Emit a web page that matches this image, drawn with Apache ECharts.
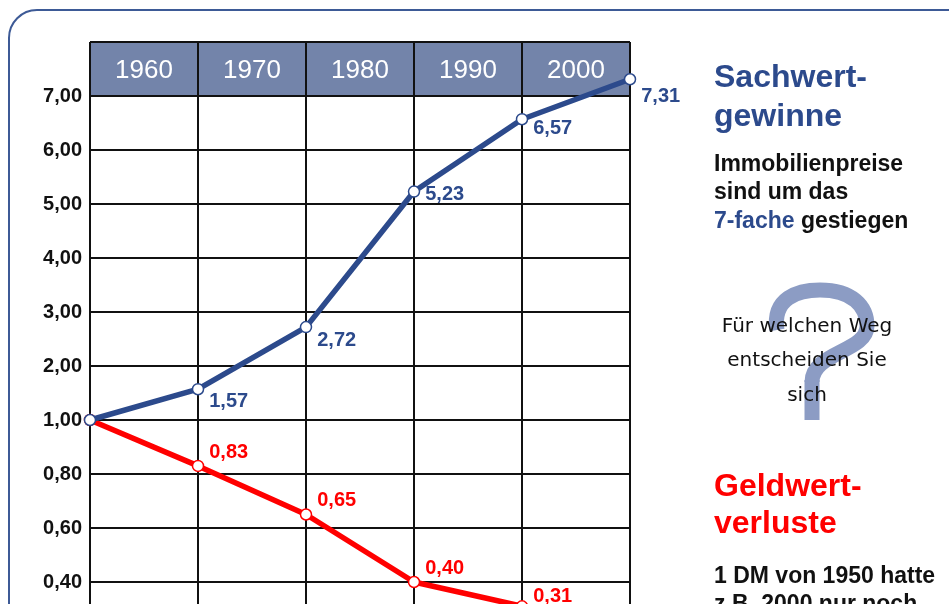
<!DOCTYPE html>
<html><head><meta charset="utf-8">
<script src="https://cdn.jsdelivr.net/npm/echarts@6/dist/echarts.min.js"></script>
<style>html,body{margin:0;padding:0;background:#fff;}#c{width:949px;height:604px;}</style>
</head><body><div id="c"></div>
<script>
// ---- data ----
const years = [1950, 1960, 1970, 1980, 1990, 2000];
const headerLabels = ['1960', '1970', '1980', '1990', '2000'];
const sachwert = [1.00, 1.57, 2.72, 5.23, 6.57, 7.31];
const geldwert = [1.00, 0.83, 0.65, 0.40, 0.31];
// y tick labels, one per grid step (lower part 0.20 steps, upper part 1.00 steps)
const yTickLabels = ['0,00','0,20','0,40','0,60','0,80','1,00','2,00','3,00','4,00','5,00','6,00','7,00',''];

// ---- styles (not data) ----
const BLUE = '#2c4a8c', RED = '#ff0000', HEADER = '#7384aa';
const FONT = '"Liberation Sans", Arial, Helvetica, sans-serif';
const blueLabelOffsets = [[0,0],[0,12],[0,13],[0,3],[0,9],[0,17]];
const redLabelOffsets = [[0,0],[0,-13],[0,-14],[0,-14],[0,-10]];

// piecewise axis: 0..1 in steps of 0.2 -> 0..5, 1..7 in steps of 1 -> 5..11
function toPos(v){ return v >= 1 ? v + 4 : v / 0.2; }
function fmt(v){ return v.toFixed(2).replace('.', ','); }

function buildSeries(vals, offsets){
  return vals.map((v, i) => ({
    value: [years[i], toPos(v)],
    label: { show: i > 0, offset: offsets[i] }
  }));
}

const splitColors = [];
for (let i = 0; i < 11; i++) splitColors.push('#ffffff');
splitColors.push(HEADER);

const QM = { fill: 'none', stroke: '#8c9cc4', lineWidth: 15 };
const GRIDLINE = { color: '#111', width: 2 };

const chart = echarts.init(document.getElementById('c'), null, {renderer: 'canvas'});
chart.setOption({
  animation: false,
  backgroundColor: '#fff',
  grid: { left: 90, top: 42, width: 540, height: 648, containLabel: false, outerBoundsMode: 'none' },
  xAxis: [{
    type: 'value', min: 1950, max: 2000, interval: 10,
    axisLine: { show: false }, axisTick: { show: false }, axisLabel: { show: false },
    splitLine: { show: true, lineStyle: GRIDLINE }
  }, {
    type: 'category', position: 'top', data: headerLabels, boundaryGap: true,
    axisLine: { show: false }, axisTick: { show: false }, splitLine: { show: false },
    axisLabel: { inside: true, margin: 16, color: '#ffffff', fontSize: 26, fontFamily: FONT }
  }],
  yAxis: {
    type: 'value', min: 0, max: 12, interval: 1,
    axisLine: { show: false }, axisTick: { show: false },
    splitLine: { show: true, lineStyle: GRIDLINE },
    splitArea: { show: true, areaStyle: { color: splitColors } },
    axisLabel: {
      margin: 8, color: '#111', fontSize: 20, fontWeight: 'bold', fontFamily: FONT,
      formatter: v => yTickLabels[v] || ''
    }
  },
  series: [{
    type: 'line', name: 'Sachwert', z: 3,
    data: buildSeries(sachwert, blueLabelOffsets),
    lineStyle: { color: BLUE, width: 5.5 },
    symbol: 'circle', symbolSize: 11,
    itemStyle: { color: '#fff', borderColor: BLUE, borderWidth: 1.5 },
    label: {
      position: 'right', distance: 5, color: BLUE, fontSize: 20, fontWeight: 'bold', fontFamily: FONT,
      formatter: p => fmt(sachwert[p.dataIndex])
    }
  }, {
    type: 'line', name: 'Geldwert', z: 2,
    data: buildSeries(geldwert, redLabelOffsets),
    lineStyle: { color: RED, width: 5.5 },
    symbol: 'circle', symbolSize: 11,
    itemStyle: { color: '#fff', borderColor: RED, borderWidth: 1.5 },
    label: {
      position: 'right', distance: 5, color: RED, fontSize: 20, fontWeight: 'bold', fontFamily: FONT,
      formatter: p => fmt(geldwert[p.dataIndex])
    }
  }],
  graphic: [
    { type: 'rect', z: 100, shape: { x: 9, y: 10, width: 1000, height: 700, r: 28 },
      style: { fill: 'none', stroke: '#3d5a96', lineWidth: 2 } },
    { type: 'text', z: 100, x: 714, y: 78, style: { text: 'Sachwert-', fill: BLUE, font: 'bold 32px ' + FONT, verticalAlign: 'middle' } },
    { type: 'text', z: 100, x: 714, y: 117, style: { text: 'gewinne', fill: BLUE, font: 'bold 32px ' + FONT, verticalAlign: 'middle' } },
    { type: 'text', z: 100, x: 714, y: 165, style: { text: 'Immobilienpreise', fill: '#111', font: 'bold 23px ' + FONT, verticalAlign: 'middle' } },
    { type: 'text', z: 100, x: 714, y: 193, style: { text: 'sind um das', fill: '#111', font: 'bold 23px ' + FONT, verticalAlign: 'middle' } },
    { type: 'text', z: 100, x: 714, y: 222, style: {
        text: '{b|7-fache} {n|gestiegen}', verticalAlign: 'middle', font: 'bold 23px ' + FONT, fill: '#111',
        rich: { b: { fill: BLUE, fontSize: 23, fontWeight: 'bold', fontFamily: FONT },
                n: { fill: '#111', fontSize: 23, fontWeight: 'bold', fontFamily: FONT } } } },
    { type: 'bezierCurve', z: 99, shape: { x1: 777, y1: 330, cpx1: 772, cpy1: 298, cpx2: 798, cpy2: 290, x2: 820, y2: 290 }, style: QM },
    { type: 'bezierCurve', z: 99, shape: { x1: 820, y1: 290, cpx1: 852, cpy1: 290, cpx2: 867, cpy2: 306, x2: 867, y2: 326 }, style: QM },
    { type: 'bezierCurve', z: 99, shape: { x1: 867, y1: 326, cpx1: 867, cpy1: 352, cpx2: 812, cpy2: 352, x2: 812, y2: 382 }, style: QM },
    { type: 'line', z: 99, shape: { x1: 812, y1: 380, x2: 812, y2: 420 }, style: QM },
    { type: 'text', z: 100, x: 807, y: 327, style: { text: 'Für welchen Weg', fill: '#111', font: '20px "DejaVu Sans", sans-serif', align: 'center', verticalAlign: 'middle' } },
    { type: 'text', z: 100, x: 807, y: 361, style: { text: 'entscheiden Sie', fill: '#111', font: '20px "DejaVu Sans", sans-serif', align: 'center', verticalAlign: 'middle' } },
    { type: 'text', z: 100, x: 807, y: 396, style: { text: 'sich', fill: '#111', font: '20px "DejaVu Sans", sans-serif', align: 'center', verticalAlign: 'middle' } },
    { type: 'text', z: 100, x: 714, y: 487, style: { text: 'Geldwert-', fill: RED, font: 'bold 32px ' + FONT, verticalAlign: 'middle' } },
    { type: 'text', z: 100, x: 714, y: 524, style: { text: 'verluste', fill: RED, font: 'bold 32px ' + FONT, verticalAlign: 'middle' } },
    { type: 'text', z: 100, x: 714, y: 577, style: { text: '1 DM von 1950 hatte', fill: '#111', font: 'bold 23px ' + FONT, verticalAlign: 'middle' } },
    { type: 'text', z: 100, x: 714, y: 605, style: { text: 'z.B. 2000 nur noch', fill: '#111', font: 'bold 23px ' + FONT, verticalAlign: 'middle' } }
  ]
});
</script>
</body></html>
